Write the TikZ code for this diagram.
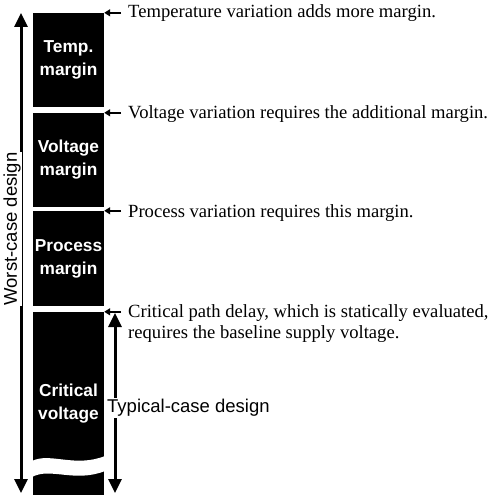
\documentclass[tikz,border=0pt]{standalone}
\usepackage{fontspec}
\setmainfont{Liberation Serif}
\setsansfont{Liberation Sans}
\usetikzlibrary{arrows.meta}

\begin{document}
\begin{tikzpicture}[x=1pt, y=-1pt,
    bar/.style={fill=black, text=white, minimum width=71pt, inner sep=0pt, align=center,
        font=\sffamily\bfseries\fontsize{17.3}{23}\selectfont},
    note/.style={anchor=base west, inner sep=0pt, align=left, font=\fontsize{18.6}{21.5}\selectfont},
    notearrow/.style={line width=2pt, -{Triangle[length=6pt, width=7pt]}},
    spanarrow/.style={line width=3pt, {Triangle[length=14pt, width=13pt]}-{Triangle[length=14pt, width=13pt]}},
    spanlabel/.style={fill=white, inner sep=1pt, font=\sffamily\fontsize{18.5}{22}\selectfont}]
    \useasboundingbox (0, 0) rectangle (492, 495);

    \node[bar, minimum height=94pt] (temp) at (68.5, 60) {Temp.\\margin};
    \node[bar, minimum height=94pt] (volt) at (68.5, 160) {Voltage\\margin};
    \node[bar, minimum height=95pt] (proc) at (68.5, 258.5) {Process\\margin};
    \node[bar, minimum height=183pt] (crit) at (68.5, 403.5) {Critical\\voltage};
    \fill[white] (32, 461) .. controls (50, 452) and (75, 468) .. (105, 456)
        -- (105, 471) .. controls (75, 483) and (50, 467) .. (32, 477) -- cycle;

    \coordinate (wtop) at (21, 13);
    \coordinate (wbot) at (21, 493);
    \draw[spanarrow] (wtop) -- (wbot);
    \node[spanlabel, rotate=90] (worst) at (12, 229) {Worst-case design};

    \coordinate (ttop) at (115, 313);
    \coordinate (tbot) at (115, 493);
    \draw[spanarrow] (ttop) -- (tbot);
    \node[spanlabel, anchor=west] (typical) at (106, 408) {Typical-case design};

    \node[note] (tempnote) at (128, 17.5) {Temperature variation adds more margin.};
    \node[note] (voltnote) at (128, 118) {Voltage variation requires the additional margin.};
    \node[note] (procnote) at (128, 217) {Process variation requires this margin.};
    \node[note] (critnote) at (128, 338.5) {Critical path delay, which is statically evaluated,\\requires the baseline supply voltage.};

    \draw[notearrow] ([xshift=17pt]temp.north east) -- (temp.north east);
    \draw[notearrow] ([xshift=17pt]volt.north east) -- (volt.north east);
    \draw[notearrow] ([xshift=17pt]proc.north east) -- (proc.north east);
    \draw[notearrow] ([xshift=17pt]crit.north east) -- (crit.north east);
\end{tikzpicture}
\end{document}
